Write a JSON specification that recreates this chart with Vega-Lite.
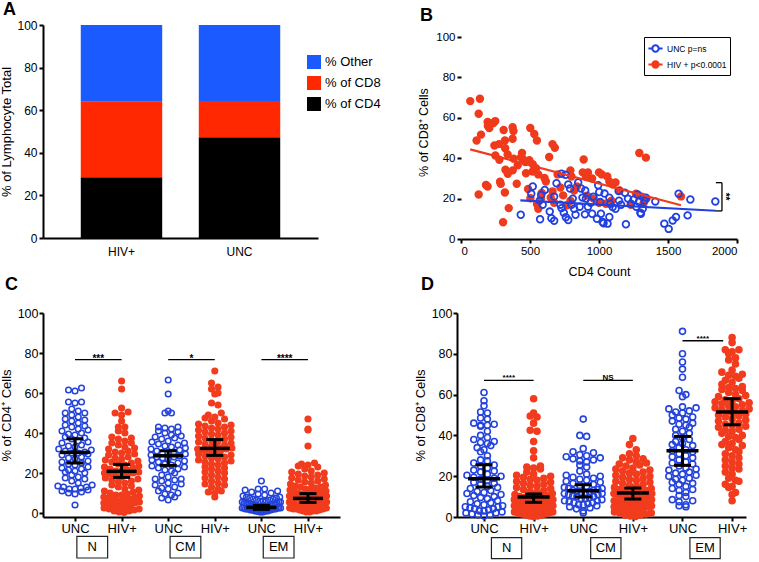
{
"$schema": "https://vega.github.io/schema/vega-lite/v6.json",
"background": "white",
"padding": {"left": 0, "top": 1, "right": 0, "bottom": 0},
"config": {
  "font": "Liberation Sans",
  "view": {"stroke": null},
  "axis": {"domainColor": "black", "domainWidth": 2, "tickColor": "black", "tickWidth": 2, "tickSize": 4, "labelColor": "black", "titleColor": "black", "grid": false, "labelFontSize": 12, "titleFontSize": 13, "titleFontWeight": "normal", "labelFont": "Liberation Sans", "titleFont": "Liberation Sans", "labelPadding": 2},
  "title": {"fontSize": 18, "fontWeight": "bold", "anchor": "start", "font": "Liberation Sans", "color": "black", "frame": "group"}
},
"datasets": {
  "a": [
    {"grp": "HIV+", "cell": "% of CD4", "pct": 28.5},
    {"grp": "HIV+", "cell": "% of CD8", "pct": 35.5},
    {"grp": "HIV+", "cell": "% Other", "pct": 36},
    {"grp": "UNC", "cell": "% of CD4", "pct": 47.3},
    {"grp": "UNC", "cell": "% of CD8", "pct": 17},
    {"grp": "UNC", "cell": "% Other", "pct": 35.7}
  ],
  "b": [
    {"grp":"HIV+","cd4":67,"cd8":68.3},{"grp":"HIV+","cd4":137,"cd8":69.5},{"grp":"HIV+","cd4":128,"cd8":62},{"grp":"HIV+","cd4":145,"cd8":51.7},{"grp":"HIV+","cd4":113,"cd8":48.8},{"grp":"HIV+","cd4":193,"cd8":58},{"grp":"HIV+","cd4":205,"cd8":55},{"grp":"HIV+","cd4":248,"cd8":58.4},{"grp":"HIV+","cd4":235,"cd8":57.5},{"grp":"HIV+","cd4":195,"cd8":56},
    {"grp":"HIV+","cd4":309,"cd8":54},{"grp":"HIV+","cd4":374,"cd8":55.4},{"grp":"HIV+","cd4":380,"cd8":53.5},{"grp":"HIV+","cd4":318,"cd8":48.8},{"grp":"HIV+","cd4":374,"cd8":49.7},{"grp":"HIV+","cd4":242,"cd8":46.3},{"grp":"HIV+","cd4":275,"cd8":47},{"grp":"HIV+","cd4":320,"cd8":45},{"grp":"HIV+","cd4":249,"cd8":41.4},{"grp":"HIV+","cd4":278,"cd8":39.3},
    {"grp":"HIV+","cd4":338,"cd8":41.9},{"grp":"HIV+","cd4":382,"cd8":39.8},{"grp":"HIV+","cd4":442,"cd8":42.6},{"grp":"HIV+","cd4":435,"cd8":40.5},{"grp":"HIV+","cd4":502,"cd8":55},{"grp":"HIV+","cd4":531,"cd8":52},{"grp":"HIV+","cd4":550,"cd8":48.8},{"grp":"HIV+","cd4":322,"cd8":34.3},{"grp":"HIV+","cd4":339,"cd8":32.3},{"grp":"HIV+","cd4":375,"cd8":34},
    {"grp":"HIV+","cd4":411,"cd8":36.5},{"grp":"HIV+","cd4":466,"cd8":38.1},{"grp":"HIV+","cd4":495,"cd8":39},{"grp":"HIV+","cd4":447,"cd8":39.8},{"grp":"HIV+","cd4":520,"cd8":37},{"grp":"HIV+","cd4":544,"cd8":35},{"grp":"HIV+","cd4":519,"cd8":33.4},{"grp":"HIV+","cd4":471,"cd8":32.6},{"grp":"HIV+","cd4":560,"cd8":32},{"grp":"HIV+","cd4":605,"cd8":30.2},
    {"grp":"HIV+","cd4":615,"cd8":28.5},{"grp":"HIV+","cd4":663,"cd8":47},{"grp":"HIV+","cd4":680,"cd8":45.2},{"grp":"HIV+","cd4":639,"cd8":40.6},{"grp":"HIV+","cd4":283,"cd8":28.4},{"grp":"HIV+","cd4":288,"cd8":27.3},{"grp":"HIV+","cd4":181,"cd8":26.8},{"grp":"HIV+","cd4":193,"cd8":26},{"grp":"HIV+","cd4":128,"cd8":22},{"grp":"HIV+","cd4":318,"cd8":23},
    {"grp":"HIV+","cd4":346,"cd8":15.3},{"grp":"HIV+","cd4":305,"cd8":8.3},{"grp":"HIV+","cd4":404,"cd8":27.4},{"grp":"HIV+","cd4":486,"cd8":24.8},{"grp":"HIV+","cd4":585,"cd8":22.8},{"grp":"HIV+","cd4":663,"cd8":23.6},{"grp":"HIV+","cd4":503,"cd8":20.2},{"grp":"HIV+","cd4":580,"cd8":20},{"grp":"HIV+","cd4":650,"cd8":20.5},{"grp":"HIV+","cd4":551,"cd8":17.2},
    {"grp":"HIV+","cd4":560,"cd8":15},{"grp":"HIV+","cd4":675,"cd8":18},{"grp":"HIV+","cd4":793,"cd8":34},{"grp":"HIV+","cd4":800,"cd8":31},{"grp":"HIV+","cd4":889,"cd8":39.4},{"grp":"HIV+","cd4":882,"cd8":33},{"grp":"HIV+","cd4":920,"cd8":33},{"grp":"HIV+","cd4":905,"cd8":31},{"grp":"HIV+","cd4":1000,"cd8":33},{"grp":"HIV+","cd4":913,"cd8":21.5},
    {"grp":"HIV+","cd4":793,"cd8":18.9},{"grp":"HIV+","cd4":740,"cd8":21.6},{"grp":"HIV+","cd4":768,"cd8":16.7},{"grp":"HIV+","cd4":820,"cd8":24},{"grp":"HIV+","cd4":840,"cd8":26},{"grp":"HIV+","cd4":950,"cd8":30},{"grp":"HIV+","cd4":1020,"cd8":32},{"grp":"HIV+","cd4":1060,"cd8":31},{"grp":"HIV+","cd4":1075,"cd8":28.5},{"grp":"HIV+","cd4":1100,"cd8":27},
    {"grp":"HIV+","cd4":1120,"cd8":28},{"grp":"HIV+","cd4":1150,"cd8":24},{"grp":"HIV+","cd4":1050,"cd8":17.5},{"grp":"HIV+","cd4":1090,"cd8":19},{"grp":"HIV+","cd4":960,"cd8":20},{"grp":"HIV+","cd4":1000,"cd8":18},{"grp":"HIV+","cd4":1292,"cd8":42.6},{"grp":"HIV+","cd4":1340,"cd8":40.3},{"grp":"HIV+","cd4":1268,"cd8":22.4},{"grp":"HIV+","cd4":1310,"cd8":21},
    {"grp":"HIV+","cd4":1345,"cd8":20},{"grp":"HIV+","cd4":1322,"cd8":17.5},{"grp":"HIV+","cd4":1594,"cd8":21.1},{"grp":"HIV+","cd4":1230,"cd8":17},{"grp":"HIV+","cd4":720,"cd8":25.5},{"grp":"HIV+","cd4":700,"cd8":32},
    {"grp":"UNC","cd4":433,"cd8":12},{"grp":"UNC","cd4":509,"cd8":22.4},{"grp":"UNC","cd4":520,"cd8":26},{"grp":"UNC","cd4":581,"cd8":21.8},{"grp":"UNC","cd4":570,"cd8":19},{"grp":"UNC","cd4":573,"cd8":9.8},{"grp":"UNC","cd4":607,"cd8":24.3},{"grp":"UNC","cd4":592,"cd8":17},{"grp":"UNC","cd4":643,"cd8":13.6},{"grp":"UNC","cd4":655,"cd8":10.3},
    {"grp":"UNC","cd4":675,"cd8":9},{"grp":"UNC","cd4":675,"cd8":21},{"grp":"UNC","cd4":692,"cd8":27.6},{"grp":"UNC","cd4":728,"cd8":32.3},{"grp":"UNC","cd4":757,"cd8":31.8},{"grp":"UNC","cd4":728,"cd8":15.3},{"grp":"UNC","cd4":760,"cd8":10.8},{"grp":"UNC","cd4":777,"cd8":9.4},{"grp":"UNC","cd4":777,"cd8":27},{"grp":"UNC","cd4":790,"cd8":25},
    {"grp":"UNC","cd4":801,"cd8":17},{"grp":"UNC","cd4":849,"cd8":28},{"grp":"UNC","cd4":870,"cd8":25},{"grp":"UNC","cd4":860,"cd8":16},{"grp":"UNC","cd4":880,"cd8":20.5},{"grp":"UNC","cd4":898,"cd8":12.2},{"grp":"UNC","cd4":920,"cd8":16},{"grp":"UNC","cd4":940,"cd8":18},{"grp":"UNC","cd4":950,"cd8":12.5},{"grp":"UNC","cd4":994,"cd8":26.6},
    {"grp":"UNC","cd4":985,"cd8":10},{"grp":"UNC","cd4":1002,"cd8":23.3},{"grp":"UNC","cd4":1009,"cd8":18.3},{"grp":"UNC","cd4":1014,"cd8":12.5},{"grp":"UNC","cd4":1026,"cd8":8.4},{"grp":"UNC","cd4":1033,"cd8":7.8},{"grp":"UNC","cd4":1062,"cd8":7.6},{"grp":"UNC","cd4":1075,"cd8":10.9},{"grp":"UNC","cd4":1075,"cd8":20.5},{"grp":"UNC","cd4":1080,"cd8":17.5},
    {"grp":"UNC","cd4":1099,"cd8":15.8},{"grp":"UNC","cd4":1142,"cd8":23.8},{"grp":"UNC","cd4":1145,"cd8":19},{"grp":"UNC","cd4":1188,"cd8":22.9},{"grp":"UNC","cd4":1195,"cd8":7.3},{"grp":"UNC","cd4":1232,"cd8":17.5},{"grp":"UNC","cd4":1250,"cd8":19.5},{"grp":"UNC","cd4":1280,"cd8":22},{"grp":"UNC","cd4":1290,"cd8":18.5},{"grp":"UNC","cd4":1304,"cd8":12.5},
    {"grp":"UNC","cd4":1317,"cd8":15},{"grp":"UNC","cd4":1330,"cd8":19},{"grp":"UNC","cd4":1408,"cd8":18.6},{"grp":"UNC","cd4":1473,"cd8":7.6},{"grp":"UNC","cd4":1505,"cd8":5},{"grp":"UNC","cd4":1534,"cd8":9.2},{"grp":"UNC","cd4":1558,"cd8":10.9},{"grp":"UNC","cd4":1577,"cd8":22.4},{"grp":"UNC","cd4":1642,"cd8":11.7},{"grp":"UNC","cd4":1662,"cd8":19.6},
    {"grp":"UNC","cd4":1843,"cd8":18.6},{"grp":"UNC","cd4":820,"cd8":15},{"grp":"UNC","cd4":830,"cd8":12},{"grp":"UNC","cd4":905,"cd8":20},{"grp":"UNC","cd4":960,"cd8":21},{"grp":"UNC","cd4":1040,"cd8":22.5},{"grp":"UNC","cd4":1120,"cd8":15},{"grp":"UNC","cd4":1160,"cd8":17},{"grp":"UNC","cd4":1210,"cd8":20},{"grp":"UNC","cd4":1270,"cd8":16},
    {"grp":"UNC","cd4":1300,"cd8":13},{"grp":"UNC","cd4":1340,"cd8":20.5},{"grp":"UNC","cd4":720,"cd8":17},{"grp":"UNC","cd4":745,"cd8":13},{"grp":"UNC","cd4":810,"cd8":20},{"grp":"UNC","cd4":900,"cd8":24}
  ],
  "bfit": [
    {"grp":"HIV+","cd4":67,"cd8":44.4},{"grp":"HIV+","cd4":1594,"cd8":16.7},
    {"grp":"UNC","cd4":430,"cd8":19.1},{"grp":"UNC","cd4":1847,"cd8":14}
  ],
  "bbr": [
    {"x1":1847,"x2":1891,"y1":27.9,"y2":27.9},
    {"x1":1891,"x2":1891,"y1":27.9,"y2":13.9},
    {"x1":1847,"x2":1891,"y1":13.9,"y2":13.9}
  ],
  "c": [
    {"s":"N","g":"UNC","v":62.5},{"s":"N","g":"UNC","v":61.5},{"s":"N","g":"UNC","v":61},{"s":"N","g":"UNC","v":55.5},{"s":"N","g":"UNC","v":55.5},{"s":"N","g":"UNC","v":55},{"s":"N","g":"UNC","v":52},{"s":"N","g":"UNC","v":51},{"s":"N","g":"UNC","v":50},{"s":"N","g":"UNC","v":50},
    {"s":"N","g":"UNC","v":49},{"s":"N","g":"UNC","v":48},{"s":"N","g":"UNC","v":47},{"s":"N","g":"UNC","v":46.5},{"s":"N","g":"UNC","v":46},{"s":"N","g":"UNC","v":45},{"s":"N","g":"UNC","v":44},{"s":"N","g":"UNC","v":43.5},{"s":"N","g":"UNC","v":43},{"s":"N","g":"UNC","v":42},
    {"s":"N","g":"UNC","v":41.5},{"s":"N","g":"UNC","v":41},{"s":"N","g":"UNC","v":40},{"s":"N","g":"UNC","v":39.5},{"s":"N","g":"UNC","v":39},{"s":"N","g":"UNC","v":38},{"s":"N","g":"UNC","v":37.5},{"s":"N","g":"UNC","v":37},{"s":"N","g":"UNC","v":36},{"s":"N","g":"UNC","v":35.5},
    {"s":"N","g":"UNC","v":35},{"s":"N","g":"UNC","v":34},{"s":"N","g":"UNC","v":33.5},{"s":"N","g":"UNC","v":33},{"s":"N","g":"UNC","v":32},{"s":"N","g":"UNC","v":31.5},{"s":"N","g":"UNC","v":31},{"s":"N","g":"UNC","v":30.5},{"s":"N","g":"UNC","v":30},{"s":"N","g":"UNC","v":30},
    {"s":"N","g":"UNC","v":29.5},{"s":"N","g":"UNC","v":29},{"s":"N","g":"UNC","v":28},{"s":"N","g":"UNC","v":27.5},{"s":"N","g":"UNC","v":27},{"s":"N","g":"UNC","v":26},{"s":"N","g":"UNC","v":25.5},{"s":"N","g":"UNC","v":25},{"s":"N","g":"UNC","v":24.5},{"s":"N","g":"UNC","v":24},
    {"s":"N","g":"UNC","v":23},{"s":"N","g":"UNC","v":22.5},{"s":"N","g":"UNC","v":22},{"s":"N","g":"UNC","v":21.5},{"s":"N","g":"UNC","v":21},{"s":"N","g":"UNC","v":20.5},{"s":"N","g":"UNC","v":20},{"s":"N","g":"UNC","v":19},{"s":"N","g":"UNC","v":18},{"s":"N","g":"UNC","v":17.5},
    {"s":"N","g":"UNC","v":17},{"s":"N","g":"UNC","v":16},{"s":"N","g":"UNC","v":15},{"s":"N","g":"UNC","v":14},{"s":"N","g":"UNC","v":13.5},{"s":"N","g":"UNC","v":13},{"s":"N","g":"UNC","v":13},{"s":"N","g":"UNC","v":12.5},{"s":"N","g":"UNC","v":12},{"s":"N","g":"UNC","v":12},
    {"s":"N","g":"UNC","v":11.5},{"s":"N","g":"UNC","v":11},{"s":"N","g":"UNC","v":10.5},{"s":"N","g":"UNC","v":10},{"s":"N","g":"UNC","v":9.5},{"s":"N","g":"UNC","v":4},
    {"s":"N","g":"HIV+","v":66},{"s":"N","g":"HIV+","v":62},{"s":"N","g":"HIV+","v":52.5},{"s":"N","g":"HIV+","v":50.5},{"s":"N","g":"HIV+","v":50},{"s":"N","g":"HIV+","v":49},{"s":"N","g":"HIV+","v":46},{"s":"N","g":"HIV+","v":43},{"s":"N","g":"HIV+","v":43},{"s":"N","g":"HIV+","v":41},
    {"s":"N","g":"HIV+","v":40},{"s":"N","g":"HIV+","v":38},{"s":"N","g":"HIV+","v":37.5},{"s":"N","g":"HIV+","v":37},{"s":"N","g":"HIV+","v":36},{"s":"N","g":"HIV+","v":35},{"s":"N","g":"HIV+","v":35},{"s":"N","g":"HIV+","v":34},{"s":"N","g":"HIV+","v":33},{"s":"N","g":"HIV+","v":32.5},
    {"s":"N","g":"HIV+","v":32},{"s":"N","g":"HIV+","v":31},{"s":"N","g":"HIV+","v":30.5},{"s":"N","g":"HIV+","v":30},{"s":"N","g":"HIV+","v":29.5},{"s":"N","g":"HIV+","v":29},{"s":"N","g":"HIV+","v":28},{"s":"N","g":"HIV+","v":27.5},{"s":"N","g":"HIV+","v":27},{"s":"N","g":"HIV+","v":26.5},
    {"s":"N","g":"HIV+","v":26},{"s":"N","g":"HIV+","v":25.5},{"s":"N","g":"HIV+","v":25},{"s":"N","g":"HIV+","v":24.5},{"s":"N","g":"HIV+","v":24},{"s":"N","g":"HIV+","v":23.5},{"s":"N","g":"HIV+","v":23},{"s":"N","g":"HIV+","v":22.5},{"s":"N","g":"HIV+","v":22},{"s":"N","g":"HIV+","v":21.5},
    {"s":"N","g":"HIV+","v":21},{"s":"N","g":"HIV+","v":21},{"s":"N","g":"HIV+","v":20.5},{"s":"N","g":"HIV+","v":20},{"s":"N","g":"HIV+","v":20},{"s":"N","g":"HIV+","v":19.5},{"s":"N","g":"HIV+","v":19},{"s":"N","g":"HIV+","v":18.5},{"s":"N","g":"HIV+","v":18},{"s":"N","g":"HIV+","v":17.5},
    {"s":"N","g":"HIV+","v":17},{"s":"N","g":"HIV+","v":16.5},{"s":"N","g":"HIV+","v":16},{"s":"N","g":"HIV+","v":15.5},{"s":"N","g":"HIV+","v":15},{"s":"N","g":"HIV+","v":14},{"s":"N","g":"HIV+","v":13.5},{"s":"N","g":"HIV+","v":13},{"s":"N","g":"HIV+","v":12},{"s":"N","g":"HIV+","v":11.5},
    {"s":"N","g":"HIV+","v":11},{"s":"N","g":"HIV+","v":10.5},{"s":"N","g":"HIV+","v":10},{"s":"N","g":"HIV+","v":9.5},{"s":"N","g":"HIV+","v":9},{"s":"N","g":"HIV+","v":9},{"s":"N","g":"HIV+","v":8.5},{"s":"N","g":"HIV+","v":8},{"s":"N","g":"HIV+","v":8},{"s":"N","g":"HIV+","v":7.5},
    {"s":"N","g":"HIV+","v":7},{"s":"N","g":"HIV+","v":7},{"s":"N","g":"HIV+","v":6.5},{"s":"N","g":"HIV+","v":6},{"s":"N","g":"HIV+","v":6},{"s":"N","g":"HIV+","v":5.5},{"s":"N","g":"HIV+","v":5},{"s":"N","g":"HIV+","v":5},{"s":"N","g":"HIV+","v":4.5},{"s":"N","g":"HIV+","v":4},
    {"s":"N","g":"HIV+","v":4},{"s":"N","g":"HIV+","v":3.5},{"s":"N","g":"HIV+","v":3},{"s":"N","g":"HIV+","v":3},{"s":"N","g":"HIV+","v":2.5},{"s":"N","g":"HIV+","v":2},{"s":"N","g":"HIV+","v":2},{"s":"N","g":"HIV+","v":1.5},{"s":"N","g":"HIV+","v":1},{"s":"N","g":"HIV+","v":1},
    {"s":"N","g":"HIV+","v":0.5},{"s":"N","g":"HIV+","v":0.3},
    {"s":"CM","g":"UNC","v":66.5},{"s":"CM","g":"UNC","v":59.5},{"s":"CM","g":"UNC","v":51},{"s":"CM","g":"UNC","v":50},{"s":"CM","g":"UNC","v":50},{"s":"CM","g":"UNC","v":43},{"s":"CM","g":"UNC","v":43},{"s":"CM","g":"UNC","v":42.5},{"s":"CM","g":"UNC","v":42},{"s":"CM","g":"UNC","v":41},
    {"s":"CM","g":"UNC","v":40.5},{"s":"CM","g":"UNC","v":40},{"s":"CM","g":"UNC","v":39},{"s":"CM","g":"UNC","v":38.5},{"s":"CM","g":"UNC","v":38},{"s":"CM","g":"UNC","v":37.5},{"s":"CM","g":"UNC","v":37},{"s":"CM","g":"UNC","v":36},{"s":"CM","g":"UNC","v":35.5},{"s":"CM","g":"UNC","v":35},
    {"s":"CM","g":"UNC","v":34.5},{"s":"CM","g":"UNC","v":34},{"s":"CM","g":"UNC","v":33.5},{"s":"CM","g":"UNC","v":33},{"s":"CM","g":"UNC","v":32.5},{"s":"CM","g":"UNC","v":32},{"s":"CM","g":"UNC","v":31.5},{"s":"CM","g":"UNC","v":31},{"s":"CM","g":"UNC","v":30.5},{"s":"CM","g":"UNC","v":30},
    {"s":"CM","g":"UNC","v":30},{"s":"CM","g":"UNC","v":29.5},{"s":"CM","g":"UNC","v":29},{"s":"CM","g":"UNC","v":28.5},{"s":"CM","g":"UNC","v":28},{"s":"CM","g":"UNC","v":28},{"s":"CM","g":"UNC","v":27.5},{"s":"CM","g":"UNC","v":27},{"s":"CM","g":"UNC","v":26.5},{"s":"CM","g":"UNC","v":26},
    {"s":"CM","g":"UNC","v":25.5},{"s":"CM","g":"UNC","v":25},{"s":"CM","g":"UNC","v":24.5},{"s":"CM","g":"UNC","v":24},{"s":"CM","g":"UNC","v":23.5},{"s":"CM","g":"UNC","v":23},{"s":"CM","g":"UNC","v":22.5},{"s":"CM","g":"UNC","v":22},{"s":"CM","g":"UNC","v":21.5},{"s":"CM","g":"UNC","v":21},
    {"s":"CM","g":"UNC","v":20},{"s":"CM","g":"UNC","v":19},{"s":"CM","g":"UNC","v":18},{"s":"CM","g":"UNC","v":17},{"s":"CM","g":"UNC","v":17},{"s":"CM","g":"UNC","v":16.5},{"s":"CM","g":"UNC","v":16},{"s":"CM","g":"UNC","v":15},{"s":"CM","g":"UNC","v":14.5},{"s":"CM","g":"UNC","v":14},
    {"s":"CM","g":"UNC","v":13},{"s":"CM","g":"UNC","v":12.5},{"s":"CM","g":"UNC","v":12},{"s":"CM","g":"UNC","v":11},{"s":"CM","g":"UNC","v":10},{"s":"CM","g":"UNC","v":9.5},{"s":"CM","g":"UNC","v":9},{"s":"CM","g":"UNC","v":8},{"s":"CM","g":"UNC","v":7.5},{"s":"CM","g":"UNC","v":6.5},
    {"s":"CM","g":"HIV+","v":71},{"s":"CM","g":"HIV+","v":65},{"s":"CM","g":"HIV+","v":63},{"s":"CM","g":"HIV+","v":62},{"s":"CM","g":"HIV+","v":60},{"s":"CM","g":"HIV+","v":59.5},{"s":"CM","g":"HIV+","v":55},{"s":"CM","g":"HIV+","v":54},{"s":"CM","g":"HIV+","v":50},{"s":"CM","g":"HIV+","v":49},
    {"s":"CM","g":"HIV+","v":48},{"s":"CM","g":"HIV+","v":47.5},{"s":"CM","g":"HIV+","v":47},{"s":"CM","g":"HIV+","v":46},{"s":"CM","g":"HIV+","v":45},{"s":"CM","g":"HIV+","v":44.5},{"s":"CM","g":"HIV+","v":44},{"s":"CM","g":"HIV+","v":43.5},{"s":"CM","g":"HIV+","v":43},{"s":"CM","g":"HIV+","v":42.5},
    {"s":"CM","g":"HIV+","v":42},{"s":"CM","g":"HIV+","v":41.5},{"s":"CM","g":"HIV+","v":41},{"s":"CM","g":"HIV+","v":40.5},{"s":"CM","g":"HIV+","v":40},{"s":"CM","g":"HIV+","v":39.5},{"s":"CM","g":"HIV+","v":39},{"s":"CM","g":"HIV+","v":38.5},{"s":"CM","g":"HIV+","v":38},{"s":"CM","g":"HIV+","v":37.5},
    {"s":"CM","g":"HIV+","v":37},{"s":"CM","g":"HIV+","v":36.5},{"s":"CM","g":"HIV+","v":36},{"s":"CM","g":"HIV+","v":35.5},{"s":"CM","g":"HIV+","v":35},{"s":"CM","g":"HIV+","v":34.5},{"s":"CM","g":"HIV+","v":34},{"s":"CM","g":"HIV+","v":33.5},{"s":"CM","g":"HIV+","v":33},{"s":"CM","g":"HIV+","v":32.5},
    {"s":"CM","g":"HIV+","v":32},{"s":"CM","g":"HIV+","v":32},{"s":"CM","g":"HIV+","v":31.5},{"s":"CM","g":"HIV+","v":31},{"s":"CM","g":"HIV+","v":30.5},{"s":"CM","g":"HIV+","v":30},{"s":"CM","g":"HIV+","v":29.5},{"s":"CM","g":"HIV+","v":29},{"s":"CM","g":"HIV+","v":28.5},{"s":"CM","g":"HIV+","v":28},
    {"s":"CM","g":"HIV+","v":27.5},{"s":"CM","g":"HIV+","v":27},{"s":"CM","g":"HIV+","v":26.5},{"s":"CM","g":"HIV+","v":26},{"s":"CM","g":"HIV+","v":25.5},{"s":"CM","g":"HIV+","v":25},{"s":"CM","g":"HIV+","v":24.5},{"s":"CM","g":"HIV+","v":24},{"s":"CM","g":"HIV+","v":23},{"s":"CM","g":"HIV+","v":22.5},
    {"s":"CM","g":"HIV+","v":22},{"s":"CM","g":"HIV+","v":21},{"s":"CM","g":"HIV+","v":20.5},{"s":"CM","g":"HIV+","v":20},{"s":"CM","g":"HIV+","v":19},{"s":"CM","g":"HIV+","v":18},{"s":"CM","g":"HIV+","v":17.5},{"s":"CM","g":"HIV+","v":17},{"s":"CM","g":"HIV+","v":16},{"s":"CM","g":"HIV+","v":15},
    {"s":"CM","g":"HIV+","v":14.5},{"s":"CM","g":"HIV+","v":14},{"s":"CM","g":"HIV+","v":13},{"s":"CM","g":"HIV+","v":12},{"s":"CM","g":"HIV+","v":11},{"s":"CM","g":"HIV+","v":10.5},{"s":"CM","g":"HIV+","v":10},{"s":"CM","g":"HIV+","v":8},
    {"s":"EM","g":"UNC","v":16},{"s":"EM","g":"UNC","v":12},{"s":"EM","g":"UNC","v":12},{"s":"EM","g":"UNC","v":11.5},{"s":"EM","g":"UNC","v":11},{"s":"EM","g":"UNC","v":10.5},{"s":"EM","g":"UNC","v":10},{"s":"EM","g":"UNC","v":9.5},{"s":"EM","g":"UNC","v":9},{"s":"EM","g":"UNC","v":8.5},
    {"s":"EM","g":"UNC","v":8},{"s":"EM","g":"UNC","v":8},{"s":"EM","g":"UNC","v":7.5},{"s":"EM","g":"UNC","v":7.5},{"s":"EM","g":"UNC","v":7},{"s":"EM","g":"UNC","v":7},{"s":"EM","g":"UNC","v":6.5},{"s":"EM","g":"UNC","v":6.5},{"s":"EM","g":"UNC","v":6},{"s":"EM","g":"UNC","v":6},
    {"s":"EM","g":"UNC","v":6},{"s":"EM","g":"UNC","v":5.5},{"s":"EM","g":"UNC","v":5.5},{"s":"EM","g":"UNC","v":5.5},{"s":"EM","g":"UNC","v":5},{"s":"EM","g":"UNC","v":5},{"s":"EM","g":"UNC","v":5},{"s":"EM","g":"UNC","v":4.5},{"s":"EM","g":"UNC","v":4.5},{"s":"EM","g":"UNC","v":4.5},
    {"s":"EM","g":"UNC","v":4.5},{"s":"EM","g":"UNC","v":4},{"s":"EM","g":"UNC","v":4},{"s":"EM","g":"UNC","v":4},{"s":"EM","g":"UNC","v":4},{"s":"EM","g":"UNC","v":3.5},{"s":"EM","g":"UNC","v":3.5},{"s":"EM","g":"UNC","v":3.5},{"s":"EM","g":"UNC","v":3.5},{"s":"EM","g":"UNC","v":3},
    {"s":"EM","g":"UNC","v":3},{"s":"EM","g":"UNC","v":3},{"s":"EM","g":"UNC","v":3},{"s":"EM","g":"UNC","v":3},{"s":"EM","g":"UNC","v":2.5},{"s":"EM","g":"UNC","v":2.5},{"s":"EM","g":"UNC","v":2.5},{"s":"EM","g":"UNC","v":2.5},{"s":"EM","g":"UNC","v":2.5},{"s":"EM","g":"UNC","v":2},
    {"s":"EM","g":"UNC","v":2},{"s":"EM","g":"UNC","v":2},{"s":"EM","g":"UNC","v":2},{"s":"EM","g":"UNC","v":2},{"s":"EM","g":"UNC","v":2},{"s":"EM","g":"UNC","v":1.5},{"s":"EM","g":"UNC","v":1.5},{"s":"EM","g":"UNC","v":1.5},{"s":"EM","g":"UNC","v":1.5},{"s":"EM","g":"UNC","v":1.5},
    {"s":"EM","g":"UNC","v":1},{"s":"EM","g":"UNC","v":1},{"s":"EM","g":"UNC","v":1},{"s":"EM","g":"UNC","v":1},{"s":"EM","g":"UNC","v":1},{"s":"EM","g":"UNC","v":0.8},{"s":"EM","g":"UNC","v":0.5},{"s":"EM","g":"UNC","v":0.5},{"s":"EM","g":"UNC","v":0.5},
    {"s":"EM","g":"HIV+","v":47},{"s":"EM","g":"HIV+","v":42},{"s":"EM","g":"HIV+","v":41.5},{"s":"EM","g":"HIV+","v":33.5},{"s":"EM","g":"HIV+","v":25},{"s":"EM","g":"HIV+","v":24.5},{"s":"EM","g":"HIV+","v":24},{"s":"EM","g":"HIV+","v":23.5},{"s":"EM","g":"HIV+","v":23},{"s":"EM","g":"HIV+","v":22},
    {"s":"EM","g":"HIV+","v":21},{"s":"EM","g":"HIV+","v":20.5},{"s":"EM","g":"HIV+","v":20},{"s":"EM","g":"HIV+","v":19.5},{"s":"EM","g":"HIV+","v":19},{"s":"EM","g":"HIV+","v":18.5},{"s":"EM","g":"HIV+","v":18},{"s":"EM","g":"HIV+","v":17.5},{"s":"EM","g":"HIV+","v":17},{"s":"EM","g":"HIV+","v":16.5},
    {"s":"EM","g":"HIV+","v":16},{"s":"EM","g":"HIV+","v":15.5},{"s":"EM","g":"HIV+","v":15},{"s":"EM","g":"HIV+","v":14.5},{"s":"EM","g":"HIV+","v":14},{"s":"EM","g":"HIV+","v":13.5},{"s":"EM","g":"HIV+","v":13},{"s":"EM","g":"HIV+","v":13},{"s":"EM","g":"HIV+","v":12.5},{"s":"EM","g":"HIV+","v":12},
    {"s":"EM","g":"HIV+","v":12},{"s":"EM","g":"HIV+","v":11.5},{"s":"EM","g":"HIV+","v":11},{"s":"EM","g":"HIV+","v":11},{"s":"EM","g":"HIV+","v":10.5},{"s":"EM","g":"HIV+","v":10},{"s":"EM","g":"HIV+","v":10},{"s":"EM","g":"HIV+","v":9.5},{"s":"EM","g":"HIV+","v":9.5},{"s":"EM","g":"HIV+","v":9},
    {"s":"EM","g":"HIV+","v":9},{"s":"EM","g":"HIV+","v":8.5},{"s":"EM","g":"HIV+","v":8.5},{"s":"EM","g":"HIV+","v":8},{"s":"EM","g":"HIV+","v":8},{"s":"EM","g":"HIV+","v":7.5},{"s":"EM","g":"HIV+","v":7.5},{"s":"EM","g":"HIV+","v":7.5},{"s":"EM","g":"HIV+","v":7},{"s":"EM","g":"HIV+","v":7},
    {"s":"EM","g":"HIV+","v":6.5},{"s":"EM","g":"HIV+","v":6.5},{"s":"EM","g":"HIV+","v":6},{"s":"EM","g":"HIV+","v":6},{"s":"EM","g":"HIV+","v":6},{"s":"EM","g":"HIV+","v":5.5},{"s":"EM","g":"HIV+","v":5.5},{"s":"EM","g":"HIV+","v":5},{"s":"EM","g":"HIV+","v":5},{"s":"EM","g":"HIV+","v":5},
    {"s":"EM","g":"HIV+","v":4.5},{"s":"EM","g":"HIV+","v":4.5},{"s":"EM","g":"HIV+","v":4},{"s":"EM","g":"HIV+","v":4},{"s":"EM","g":"HIV+","v":4},{"s":"EM","g":"HIV+","v":3.5},{"s":"EM","g":"HIV+","v":3.5},{"s":"EM","g":"HIV+","v":3},{"s":"EM","g":"HIV+","v":3},{"s":"EM","g":"HIV+","v":3},
    {"s":"EM","g":"HIV+","v":2.5},{"s":"EM","g":"HIV+","v":2.5},{"s":"EM","g":"HIV+","v":2},{"s":"EM","g":"HIV+","v":2},{"s":"EM","g":"HIV+","v":2},{"s":"EM","g":"HIV+","v":1.5},{"s":"EM","g":"HIV+","v":1.5},{"s":"EM","g":"HIV+","v":1},{"s":"EM","g":"HIV+","v":1},{"s":"EM","g":"HIV+","v":1},
    {"s":"EM","g":"HIV+","v":0.5},{"s":"EM","g":"HIV+","v":0.5}
  ],
  "cs": [
    {"s":"N","g":"UNC","med":30.3,"lo":25,"hi":37.1},
    {"s":"N","g":"HIV+","med":20.8,"lo":17.8,"hi":24.3},
    {"s":"CM","g":"UNC","med":28.6,"lo":23.8,"hi":31.1},
    {"s":"CM","g":"HIV+","med":32.3,"lo":28.8,"hi":36.7},
    {"s":"EM","g":"UNC","med":2.8,"lo":1.8,"hi":3.8},
    {"s":"EM","g":"HIV+","med":7.3,"lo":5.3,"hi":9.7}
  ],
  "csig": [
    {"x1":1,"x2":2,"y":76.7,"t":"***"},
    {"x1":3,"x2":4,"y":76.7,"t":"*"},
    {"x1":5,"x2":6,"y":76.7,"t":"****"}
  ],
  "d": [
    {"s":"N","g":"UNC","v":61},{"s":"N","g":"UNC","v":57},{"s":"N","g":"UNC","v":54.5},{"s":"N","g":"UNC","v":51.5},{"s":"N","g":"UNC","v":51},{"s":"N","g":"UNC","v":48.5},{"s":"N","g":"UNC","v":48},{"s":"N","g":"UNC","v":46},{"s":"N","g":"UNC","v":45.5},{"s":"N","g":"UNC","v":45},
    {"s":"N","g":"UNC","v":45},{"s":"N","g":"UNC","v":44.5},{"s":"N","g":"UNC","v":42},{"s":"N","g":"UNC","v":40},{"s":"N","g":"UNC","v":39},{"s":"N","g":"UNC","v":38},{"s":"N","g":"UNC","v":37},{"s":"N","g":"UNC","v":36.5},{"s":"N","g":"UNC","v":36},{"s":"N","g":"UNC","v":35},
    {"s":"N","g":"UNC","v":34},{"s":"N","g":"UNC","v":33},{"s":"N","g":"UNC","v":32},{"s":"N","g":"UNC","v":30},{"s":"N","g":"UNC","v":28},{"s":"N","g":"UNC","v":27.5},{"s":"N","g":"UNC","v":26.5},{"s":"N","g":"UNC","v":25.5},{"s":"N","g":"UNC","v":25},{"s":"N","g":"UNC","v":24},
    {"s":"N","g":"UNC","v":23},{"s":"N","g":"UNC","v":22.5},{"s":"N","g":"UNC","v":22},{"s":"N","g":"UNC","v":21},{"s":"N","g":"UNC","v":20.5},{"s":"N","g":"UNC","v":20},{"s":"N","g":"UNC","v":19.5},{"s":"N","g":"UNC","v":19},{"s":"N","g":"UNC","v":18.5},{"s":"N","g":"UNC","v":18},
    {"s":"N","g":"UNC","v":17},{"s":"N","g":"UNC","v":16.5},{"s":"N","g":"UNC","v":16},{"s":"N","g":"UNC","v":15},{"s":"N","g":"UNC","v":14.5},{"s":"N","g":"UNC","v":14},{"s":"N","g":"UNC","v":13},{"s":"N","g":"UNC","v":12.5},{"s":"N","g":"UNC","v":12},{"s":"N","g":"UNC","v":11.5},
    {"s":"N","g":"UNC","v":11},{"s":"N","g":"UNC","v":10.5},{"s":"N","g":"UNC","v":10},{"s":"N","g":"UNC","v":9.5},{"s":"N","g":"UNC","v":9},{"s":"N","g":"UNC","v":8},{"s":"N","g":"UNC","v":7.5},{"s":"N","g":"UNC","v":7},{"s":"N","g":"UNC","v":6.5},{"s":"N","g":"UNC","v":6},
    {"s":"N","g":"UNC","v":5.5},{"s":"N","g":"UNC","v":5},{"s":"N","g":"UNC","v":5},{"s":"N","g":"UNC","v":4.5},{"s":"N","g":"UNC","v":4},{"s":"N","g":"UNC","v":4},{"s":"N","g":"UNC","v":3.5},{"s":"N","g":"UNC","v":3},{"s":"N","g":"UNC","v":3},{"s":"N","g":"UNC","v":2.5},
    {"s":"N","g":"UNC","v":2},{"s":"N","g":"UNC","v":2},{"s":"N","g":"UNC","v":1.5},{"s":"N","g":"UNC","v":1},{"s":"N","g":"UNC","v":1},{"s":"N","g":"UNC","v":0.5},
    {"s":"N","g":"HIV+","v":58},{"s":"N","g":"HIV+","v":51},{"s":"N","g":"HIV+","v":49.5},{"s":"N","g":"HIV+","v":49},{"s":"N","g":"HIV+","v":46},{"s":"N","g":"HIV+","v":42.5},{"s":"N","g":"HIV+","v":42},{"s":"N","g":"HIV+","v":37},{"s":"N","g":"HIV+","v":32.5},{"s":"N","g":"HIV+","v":29},
    {"s":"N","g":"HIV+","v":25},{"s":"N","g":"HIV+","v":24.5},{"s":"N","g":"HIV+","v":24},{"s":"N","g":"HIV+","v":23.5},{"s":"N","g":"HIV+","v":22},{"s":"N","g":"HIV+","v":21},{"s":"N","g":"HIV+","v":20.5},{"s":"N","g":"HIV+","v":20},{"s":"N","g":"HIV+","v":19.5},{"s":"N","g":"HIV+","v":19},
    {"s":"N","g":"HIV+","v":18.5},{"s":"N","g":"HIV+","v":18},{"s":"N","g":"HIV+","v":17.5},{"s":"N","g":"HIV+","v":17},{"s":"N","g":"HIV+","v":16.5},{"s":"N","g":"HIV+","v":16},{"s":"N","g":"HIV+","v":15.5},{"s":"N","g":"HIV+","v":15},{"s":"N","g":"HIV+","v":14.5},{"s":"N","g":"HIV+","v":14},
    {"s":"N","g":"HIV+","v":13.5},{"s":"N","g":"HIV+","v":13},{"s":"N","g":"HIV+","v":12.5},{"s":"N","g":"HIV+","v":12},{"s":"N","g":"HIV+","v":11.5},{"s":"N","g":"HIV+","v":11},{"s":"N","g":"HIV+","v":10.5},{"s":"N","g":"HIV+","v":10},{"s":"N","g":"HIV+","v":10},{"s":"N","g":"HIV+","v":9.5},
    {"s":"N","g":"HIV+","v":9.5},{"s":"N","g":"HIV+","v":9},{"s":"N","g":"HIV+","v":9},{"s":"N","g":"HIV+","v":8.5},{"s":"N","g":"HIV+","v":8.5},{"s":"N","g":"HIV+","v":8},{"s":"N","g":"HIV+","v":8},{"s":"N","g":"HIV+","v":7.5},{"s":"N","g":"HIV+","v":7.5},{"s":"N","g":"HIV+","v":7},
    {"s":"N","g":"HIV+","v":7},{"s":"N","g":"HIV+","v":6.5},{"s":"N","g":"HIV+","v":6.5},{"s":"N","g":"HIV+","v":6},{"s":"N","g":"HIV+","v":6},{"s":"N","g":"HIV+","v":5.5},{"s":"N","g":"HIV+","v":5.5},{"s":"N","g":"HIV+","v":5},{"s":"N","g":"HIV+","v":5},{"s":"N","g":"HIV+","v":4.5},
    {"s":"N","g":"HIV+","v":4.5},{"s":"N","g":"HIV+","v":4},{"s":"N","g":"HIV+","v":4},{"s":"N","g":"HIV+","v":3.5},{"s":"N","g":"HIV+","v":3.5},{"s":"N","g":"HIV+","v":3},{"s":"N","g":"HIV+","v":3},{"s":"N","g":"HIV+","v":2.5},{"s":"N","g":"HIV+","v":2.5},{"s":"N","g":"HIV+","v":2},
    {"s":"N","g":"HIV+","v":2},{"s":"N","g":"HIV+","v":1.5},{"s":"N","g":"HIV+","v":1.5},{"s":"N","g":"HIV+","v":1},{"s":"N","g":"HIV+","v":1},{"s":"N","g":"HIV+","v":0.5},{"s":"N","g":"HIV+","v":0.5},{"s":"N","g":"HIV+","v":0.2},
    {"s":"CM","g":"UNC","v":48},{"s":"CM","g":"UNC","v":40},{"s":"CM","g":"UNC","v":39.5},{"s":"CM","g":"UNC","v":33.5},{"s":"CM","g":"UNC","v":32},{"s":"CM","g":"UNC","v":31.5},{"s":"CM","g":"UNC","v":30.5},{"s":"CM","g":"UNC","v":30},{"s":"CM","g":"UNC","v":29.5},{"s":"CM","g":"UNC","v":29},
    {"s":"CM","g":"UNC","v":28.5},{"s":"CM","g":"UNC","v":28},{"s":"CM","g":"UNC","v":27.5},{"s":"CM","g":"UNC","v":27},{"s":"CM","g":"UNC","v":25.5},{"s":"CM","g":"UNC","v":24.5},{"s":"CM","g":"UNC","v":22.5},{"s":"CM","g":"UNC","v":21},{"s":"CM","g":"UNC","v":20.5},{"s":"CM","g":"UNC","v":20},
    {"s":"CM","g":"UNC","v":19.5},{"s":"CM","g":"UNC","v":19},{"s":"CM","g":"UNC","v":18.5},{"s":"CM","g":"UNC","v":18},{"s":"CM","g":"UNC","v":17.5},{"s":"CM","g":"UNC","v":17},{"s":"CM","g":"UNC","v":16.5},{"s":"CM","g":"UNC","v":16},{"s":"CM","g":"UNC","v":15.5},{"s":"CM","g":"UNC","v":15},
    {"s":"CM","g":"UNC","v":14.5},{"s":"CM","g":"UNC","v":14},{"s":"CM","g":"UNC","v":14},{"s":"CM","g":"UNC","v":13.5},{"s":"CM","g":"UNC","v":13},{"s":"CM","g":"UNC","v":13},{"s":"CM","g":"UNC","v":12.5},{"s":"CM","g":"UNC","v":12.5},{"s":"CM","g":"UNC","v":12},{"s":"CM","g":"UNC","v":12},
    {"s":"CM","g":"UNC","v":11.5},{"s":"CM","g":"UNC","v":11.5},{"s":"CM","g":"UNC","v":11},{"s":"CM","g":"UNC","v":11},{"s":"CM","g":"UNC","v":10.5},{"s":"CM","g":"UNC","v":10},{"s":"CM","g":"UNC","v":10},{"s":"CM","g":"UNC","v":9.5},{"s":"CM","g":"UNC","v":9},{"s":"CM","g":"UNC","v":9},
    {"s":"CM","g":"UNC","v":8.5},{"s":"CM","g":"UNC","v":8},{"s":"CM","g":"UNC","v":8},{"s":"CM","g":"UNC","v":7.5},{"s":"CM","g":"UNC","v":7},{"s":"CM","g":"UNC","v":7},{"s":"CM","g":"UNC","v":6.5},{"s":"CM","g":"UNC","v":6},{"s":"CM","g":"UNC","v":6},{"s":"CM","g":"UNC","v":5.5},
    {"s":"CM","g":"UNC","v":5},{"s":"CM","g":"UNC","v":4.5},{"s":"CM","g":"UNC","v":4},{"s":"CM","g":"UNC","v":3},{"s":"CM","g":"UNC","v":2},
    {"s":"CM","g":"HIV+","v":38.5},{"s":"CM","g":"HIV+","v":35.5},{"s":"CM","g":"HIV+","v":33},{"s":"CM","g":"HIV+","v":31},{"s":"CM","g":"HIV+","v":30},{"s":"CM","g":"HIV+","v":29},{"s":"CM","g":"HIV+","v":28.5},{"s":"CM","g":"HIV+","v":28},{"s":"CM","g":"HIV+","v":27},{"s":"CM","g":"HIV+","v":26.5},
    {"s":"CM","g":"HIV+","v":26},{"s":"CM","g":"HIV+","v":25.5},{"s":"CM","g":"HIV+","v":25},{"s":"CM","g":"HIV+","v":24},{"s":"CM","g":"HIV+","v":23.5},{"s":"CM","g":"HIV+","v":23},{"s":"CM","g":"HIV+","v":22.5},{"s":"CM","g":"HIV+","v":22},{"s":"CM","g":"HIV+","v":21.5},{"s":"CM","g":"HIV+","v":21},
    {"s":"CM","g":"HIV+","v":20.5},{"s":"CM","g":"HIV+","v":20},{"s":"CM","g":"HIV+","v":19.5},{"s":"CM","g":"HIV+","v":19},{"s":"CM","g":"HIV+","v":18.5},{"s":"CM","g":"HIV+","v":18},{"s":"CM","g":"HIV+","v":17.5},{"s":"CM","g":"HIV+","v":17},{"s":"CM","g":"HIV+","v":16.5},{"s":"CM","g":"HIV+","v":16},
    {"s":"CM","g":"HIV+","v":15.5},{"s":"CM","g":"HIV+","v":15},{"s":"CM","g":"HIV+","v":14.5},{"s":"CM","g":"HIV+","v":14},{"s":"CM","g":"HIV+","v":13.5},{"s":"CM","g":"HIV+","v":13},{"s":"CM","g":"HIV+","v":13},{"s":"CM","g":"HIV+","v":12.5},{"s":"CM","g":"HIV+","v":12},{"s":"CM","g":"HIV+","v":12},
    {"s":"CM","g":"HIV+","v":11.5},{"s":"CM","g":"HIV+","v":11.5},{"s":"CM","g":"HIV+","v":11},{"s":"CM","g":"HIV+","v":11},{"s":"CM","g":"HIV+","v":10.5},{"s":"CM","g":"HIV+","v":10},{"s":"CM","g":"HIV+","v":10},{"s":"CM","g":"HIV+","v":9.5},{"s":"CM","g":"HIV+","v":9},{"s":"CM","g":"HIV+","v":9},
    {"s":"CM","g":"HIV+","v":8.5},{"s":"CM","g":"HIV+","v":8},{"s":"CM","g":"HIV+","v":8},{"s":"CM","g":"HIV+","v":7.5},{"s":"CM","g":"HIV+","v":7},{"s":"CM","g":"HIV+","v":7},{"s":"CM","g":"HIV+","v":6.5},{"s":"CM","g":"HIV+","v":6},{"s":"CM","g":"HIV+","v":6},{"s":"CM","g":"HIV+","v":5.5},
    {"s":"CM","g":"HIV+","v":5},{"s":"CM","g":"HIV+","v":5},{"s":"CM","g":"HIV+","v":4.5},{"s":"CM","g":"HIV+","v":4},{"s":"CM","g":"HIV+","v":4},{"s":"CM","g":"HIV+","v":3.5},{"s":"CM","g":"HIV+","v":3},{"s":"CM","g":"HIV+","v":3},{"s":"CM","g":"HIV+","v":2.5},{"s":"CM","g":"HIV+","v":2},
    {"s":"CM","g":"HIV+","v":2},{"s":"CM","g":"HIV+","v":1.5},{"s":"CM","g":"HIV+","v":1},{"s":"CM","g":"HIV+","v":1},{"s":"CM","g":"HIV+","v":0.5},{"s":"CM","g":"HIV+","v":0.3},
    {"s":"EM","g":"UNC","v":91},{"s":"EM","g":"UNC","v":80},{"s":"EM","g":"UNC","v":76},{"s":"EM","g":"UNC","v":72.5},{"s":"EM","g":"UNC","v":68.5},{"s":"EM","g":"UNC","v":62},{"s":"EM","g":"UNC","v":60},{"s":"EM","g":"UNC","v":59},{"s":"EM","g":"UNC","v":54},{"s":"EM","g":"UNC","v":53.5},
    {"s":"EM","g":"UNC","v":53},{"s":"EM","g":"UNC","v":52},{"s":"EM","g":"UNC","v":51.5},{"s":"EM","g":"UNC","v":51},{"s":"EM","g":"UNC","v":50},{"s":"EM","g":"UNC","v":49},{"s":"EM","g":"UNC","v":48.5},{"s":"EM","g":"UNC","v":48},{"s":"EM","g":"UNC","v":47},{"s":"EM","g":"UNC","v":46},
    {"s":"EM","g":"UNC","v":45.5},{"s":"EM","g":"UNC","v":45},{"s":"EM","g":"UNC","v":44},{"s":"EM","g":"UNC","v":43},{"s":"EM","g":"UNC","v":42},{"s":"EM","g":"UNC","v":41},{"s":"EM","g":"UNC","v":40},{"s":"EM","g":"UNC","v":39},{"s":"EM","g":"UNC","v":38},{"s":"EM","g":"UNC","v":37},
    {"s":"EM","g":"UNC","v":36},{"s":"EM","g":"UNC","v":35.5},{"s":"EM","g":"UNC","v":35},{"s":"EM","g":"UNC","v":34},{"s":"EM","g":"UNC","v":33},{"s":"EM","g":"UNC","v":32.5},{"s":"EM","g":"UNC","v":32},{"s":"EM","g":"UNC","v":31},{"s":"EM","g":"UNC","v":30},{"s":"EM","g":"UNC","v":29.5},
    {"s":"EM","g":"UNC","v":29},{"s":"EM","g":"UNC","v":28},{"s":"EM","g":"UNC","v":27},{"s":"EM","g":"UNC","v":26.5},{"s":"EM","g":"UNC","v":26},{"s":"EM","g":"UNC","v":25},{"s":"EM","g":"UNC","v":24},{"s":"EM","g":"UNC","v":23.5},{"s":"EM","g":"UNC","v":23},{"s":"EM","g":"UNC","v":22},
    {"s":"EM","g":"UNC","v":21.5},{"s":"EM","g":"UNC","v":21},{"s":"EM","g":"UNC","v":20.5},{"s":"EM","g":"UNC","v":20},{"s":"EM","g":"UNC","v":19},{"s":"EM","g":"UNC","v":18.5},{"s":"EM","g":"UNC","v":18},{"s":"EM","g":"UNC","v":17},{"s":"EM","g":"UNC","v":16.5},{"s":"EM","g":"UNC","v":16},
    {"s":"EM","g":"UNC","v":15},{"s":"EM","g":"UNC","v":14},{"s":"EM","g":"UNC","v":13.5},{"s":"EM","g":"UNC","v":13},{"s":"EM","g":"UNC","v":12},{"s":"EM","g":"UNC","v":10.5},{"s":"EM","g":"UNC","v":10},{"s":"EM","g":"UNC","v":8.5},{"s":"EM","g":"UNC","v":8},{"s":"EM","g":"UNC","v":7.5},
    {"s":"EM","g":"UNC","v":6},{"s":"EM","g":"UNC","v":5.5},{"s":"EM","g":"UNC","v":5},
    {"s":"EM","g":"HIV+","v":88},{"s":"EM","g":"HIV+","v":85.5},{"s":"EM","g":"HIV+","v":82},{"s":"EM","g":"HIV+","v":82},{"s":"EM","g":"HIV+","v":81},{"s":"EM","g":"HIV+","v":80},{"s":"EM","g":"HIV+","v":78},{"s":"EM","g":"HIV+","v":77},{"s":"EM","g":"HIV+","v":75},{"s":"EM","g":"HIV+","v":72},
    {"s":"EM","g":"HIV+","v":71},{"s":"EM","g":"HIV+","v":70},{"s":"EM","g":"HIV+","v":69.5},{"s":"EM","g":"HIV+","v":69},{"s":"EM","g":"HIV+","v":68},{"s":"EM","g":"HIV+","v":67},{"s":"EM","g":"HIV+","v":66},{"s":"EM","g":"HIV+","v":65},{"s":"EM","g":"HIV+","v":64},{"s":"EM","g":"HIV+","v":63.5},
    {"s":"EM","g":"HIV+","v":63},{"s":"EM","g":"HIV+","v":62.5},{"s":"EM","g":"HIV+","v":62},{"s":"EM","g":"HIV+","v":61},{"s":"EM","g":"HIV+","v":60},{"s":"EM","g":"HIV+","v":59.5},{"s":"EM","g":"HIV+","v":59},{"s":"EM","g":"HIV+","v":58},{"s":"EM","g":"HIV+","v":57.5},{"s":"EM","g":"HIV+","v":57},
    {"s":"EM","g":"HIV+","v":56.5},{"s":"EM","g":"HIV+","v":56},{"s":"EM","g":"HIV+","v":55.5},{"s":"EM","g":"HIV+","v":55},{"s":"EM","g":"HIV+","v":54.5},{"s":"EM","g":"HIV+","v":54},{"s":"EM","g":"HIV+","v":53.5},{"s":"EM","g":"HIV+","v":53},{"s":"EM","g":"HIV+","v":52.5},{"s":"EM","g":"HIV+","v":52},
    {"s":"EM","g":"HIV+","v":51.5},{"s":"EM","g":"HIV+","v":51},{"s":"EM","g":"HIV+","v":50.5},{"s":"EM","g":"HIV+","v":50},{"s":"EM","g":"HIV+","v":49.5},{"s":"EM","g":"HIV+","v":49},{"s":"EM","g":"HIV+","v":48},{"s":"EM","g":"HIV+","v":47.5},{"s":"EM","g":"HIV+","v":47},{"s":"EM","g":"HIV+","v":46},
    {"s":"EM","g":"HIV+","v":45.5},{"s":"EM","g":"HIV+","v":45},{"s":"EM","g":"HIV+","v":44.5},{"s":"EM","g":"HIV+","v":44},{"s":"EM","g":"HIV+","v":43},{"s":"EM","g":"HIV+","v":42.5},{"s":"EM","g":"HIV+","v":42},{"s":"EM","g":"HIV+","v":41},{"s":"EM","g":"HIV+","v":40},{"s":"EM","g":"HIV+","v":39.5},
    {"s":"EM","g":"HIV+","v":39},{"s":"EM","g":"HIV+","v":38},{"s":"EM","g":"HIV+","v":37},{"s":"EM","g":"HIV+","v":36},{"s":"EM","g":"HIV+","v":35.5},{"s":"EM","g":"HIV+","v":35},{"s":"EM","g":"HIV+","v":34},{"s":"EM","g":"HIV+","v":33},{"s":"EM","g":"HIV+","v":32},{"s":"EM","g":"HIV+","v":31},
    {"s":"EM","g":"HIV+","v":30},{"s":"EM","g":"HIV+","v":29},{"s":"EM","g":"HIV+","v":28},{"s":"EM","g":"HIV+","v":27},{"s":"EM","g":"HIV+","v":26},{"s":"EM","g":"HIV+","v":25},{"s":"EM","g":"HIV+","v":24},{"s":"EM","g":"HIV+","v":23.5},{"s":"EM","g":"HIV+","v":22},{"s":"EM","g":"HIV+","v":21},
    {"s":"EM","g":"HIV+","v":19},{"s":"EM","g":"HIV+","v":18},{"s":"EM","g":"HIV+","v":17.5},{"s":"EM","g":"HIV+","v":16},{"s":"EM","g":"HIV+","v":15},{"s":"EM","g":"HIV+","v":14.5},{"s":"EM","g":"HIV+","v":12},{"s":"EM","g":"HIV+","v":11},{"s":"EM","g":"HIV+","v":8}
  ],
  "ds": [
    {"s":"N","g":"UNC","med":18.8,"lo":14.7,"hi":25.6},
    {"s":"N","g":"HIV+","med":9.8,"lo":7.2,"hi":11.3},
    {"s":"CM","g":"UNC","med":12.9,"lo":9.8,"hi":15.8},
    {"s":"CM","g":"HIV+","med":11.8,"lo":8.8,"hi":14.2},
    {"s":"EM","g":"UNC","med":32.5,"lo":25.3,"hi":39.5},
    {"s":"EM","g":"HIV+","med":51.5,"lo":45.2,"hi":58}
  ],
  "dsig": [
    {"x1":1,"x2":2,"y":67,"t":"****"},
    {"x1":3,"x2":4,"y":67,"t":"NS"},
    {"x1":5,"x2":5.82,"y":86.4,"t":"****"}
  ],
  "boxes": [
    {"s":"N","p":1},{"s":"CM","p":3},{"s":"EM","p":5}
  ]
},
"resolve": {"scale": {"color": "independent", "fill": "independent", "stroke": "independent"}, "legend": {"color": "independent", "fill": "independent", "stroke": "independent"}},
"spacing": -2,
"vconcat": [
 {
  "spacing": 36,
  "resolve": {"scale": {"color": "independent", "fill": "independent", "stroke": "independent"}, "legend": {"color": "independent", "fill": "independent", "stroke": "independent"}},
  "hconcat": [
   {
    "width": 275, "height": 213,
    "title": {"text": "A", "dx": -40, "offset": 0},
    "data": {"name": "a"},
    "transform": [{"calculate": "indexof(['% of CD4','% of CD8','% Other'], datum.cell)", "as": "k"}],
    "mark": {"type": "bar"},
    "encoding": {
      "x": {"field": "grp", "type": "nominal", "sort": ["HIV+", "UNC"], "scale": {"paddingInner": 0.31, "paddingOuter": 0.32}, "axis": {"title": null, "labelAngle": 0, "ticks": false, "labelFontSize": 12, "labelPadding": 8}},
      "y": {"field": "pct", "type": "quantitative", "stack": "zero", "scale": {"domain": [0, 100], "nice": false}, "axis": {"values": [0, 20, 40, 60, 80, 100], "title": "% of Lymphocyte Total", "titlePadding": 3}},
      "color": {"field": "cell", "type": "nominal", "scale": {"domain": ["% Other", "% of CD8", "% of CD4"], "range": ["#1A5AFF", "#FF2800", "#000000"]}, "legend": {"orient": "none", "legendX": 264, "legendY": 30, "title": null, "symbolType": "square", "symbolSize": 196, "symbolStrokeWidth": 0, "labelFontSize": 13, "rowPadding": 7, "labelOffset": 4, "labelColor": "black"}},
      "order": {"field": "k", "type": "quantitative"}
    }
   },
   {
    "width": 276, "height": 214,
    "title": {"text": "B", "dx": -41, "offset": 0},
    "layer": [
     {
      "data": {"name": "b"},
      "mark": {"type": "point", "shape": "circle", "size": 44, "strokeWidth": 1.8, "opacity": 1, "fillOpacity": 1},
      "encoding": {
        "x": {"field": "cd4", "type": "quantitative", "scale": {"domain": [0, 2000], "nice": false}, "axis": {"values": [0, 500, 1000, 1500, 2000], "format": "d", "title": "CD4 Count", "labelFontSize": 11.5, "titleFontSize": 12.5, "titlePadding": 9}},
        "y": {"field": "cd8", "type": "quantitative", "scale": {"domain": [0, 106], "nice": false}, "axis": {"values": [0, 20, 40, 60, 80, 100], "domain": false, "title": "% of CD8⁺ Cells", "labelFontSize": 11.5, "titleFontSize": 12.5, "titlePadding": 5}},
        "stroke": {"field": "grp", "type": "nominal", "scale": {"domain": ["UNC", "HIV+"], "range": ["#2040E0", "#F03A1C"]}, "legend": {"orient": "none", "legendX": 183, "legendY": 12, "title": null, "strokeColor": "black", "padding": 3, "labelFontSize": 8.5, "labelColor": "black", "labelExpr": "datum.label == 'UNC' ? 'UNC p=ns' : 'HIV + p<0.0001'", "symbolType": "M-1,0L-0.45,0M0.45,0L1,0M0.45,0A0.45,0.45,0,1,1,-0.45,0A0.45,0.45,0,1,1,0.45,0", "symbolSize": 200, "symbolStrokeWidth": 2, "rowPadding": 0, "labelOffset": 3}},
        "fill": {"field": "grp", "type": "nominal", "scale": {"domain": ["UNC", "HIV+"], "range": ["transparent", "#F03A1C"]}, "legend": {"orient": "none", "legendX": 183, "legendY": 12, "title": null, "strokeColor": "black", "padding": 3, "labelFontSize": 8.5, "labelColor": "black", "labelExpr": "datum.label == 'UNC' ? 'UNC p=ns' : 'HIV + p<0.0001'", "symbolType": "M-1,0L-0.45,0M0.45,0L1,0M0.45,0A0.45,0.45,0,1,1,-0.45,0A0.45,0.45,0,1,1,0.45,0", "symbolSize": 200, "symbolStrokeWidth": 2, "rowPadding": 0, "labelOffset": 3}}
      }
     },
     {
      "data": {"name": "bfit"},
      "mark": {"type": "line", "strokeWidth": 2.2},
      "encoding": {
        "x": {"field": "cd4", "type": "quantitative"},
        "y": {"field": "cd8", "type": "quantitative"},
        "stroke": {"field": "grp", "type": "nominal"}
      }
     },
     {
      "mark": {"type": "rule", "strokeWidth": 2, "color": "black"},
      "encoding": {"x": {"datum": 0, "type": "quantitative"}, "y": {"datum": 0, "type": "quantitative"}, "y2": {"datum": 100}}
     },
     {
      "data": {"name": "bbr"},
      "mark": {"type": "rule", "strokeWidth": 1.3, "color": "black"},
      "encoding": {"x": {"field": "x1", "type": "quantitative"}, "x2": {"field": "x2"}, "y": {"field": "y1", "type": "quantitative"}, "y2": {"field": "y2"}}
     },
     {
      "data": {"values": [{"t": "**", "x": 1915, "y": 21}]},
      "mark": {"type": "text", "angle": 90, "fontSize": 10, "fontWeight": "bold", "color": "black"},
      "encoding": {"x": {"field": "x", "type": "quantitative"}, "y": {"field": "y", "type": "quantitative"}, "text": {"field": "t"}}
     }
    ]
   }
  ]
 },
 {
  "spacing": 74,
  "hconcat": [
   {
    "width": 297, "height": 204,
    "title": {"text": "C", "dx": -38, "offset": 13},
    "layer": [
     {
      "data": {"name": "c"},
      "transform": [
        {"calculate": "indexof(['N','CM','EM'], datum.s)*2 + (datum.g === 'UNC' ? 1 : 2)", "as": "pos"},
        {"calculate": "floor(datum.v / 3)", "as": "b"},
        {"joinaggregate": [{"op": "count", "as": "n"}], "groupby": ["s", "g", "b"]},
        {"window": [{"op": "row_number", "as": "k"}], "sort": [{"field": "v"}], "groupby": ["s", "g", "b"]},
        {"calculate": "datum.pos + (((datum.k - 1) % 2 == 0 ? 1 : -1) * ceil((datum.k - 1) / 2) + (datum.n % 2 == 0 ? 0.5 : 0)) * min(6.5, 40 / datum.n) / 46.6", "as": "xp"}
      ],
      "mark": {"type": "point", "shape": "circle", "size": 32, "strokeWidth": 1.5, "opacity": 1, "fillOpacity": 1},
      "encoding": {
        "x": {"field": "xp", "type": "quantitative", "scale": {"domain": [0.313, 6.687], "nice": false, "zero": false}, "axis": {"values": [1, 2, 3, 4, 5, 6], "labelExpr": "datum.value % 2 == 1 ? 'UNC' : 'HIV+'", "title": null, "labelFontSize": 13, "labelPadding": 1}},
        "y": {"field": "v", "type": "quantitative", "scale": {"domain": [-2, 100], "nice": false, "zero": false}, "axis": {"values": [0, 20, 40, 60, 80, 100], "title": "% of CD4⁺ Cells", "labelFontSize": 12.5, "titlePadding": 4, "labelPadding": 1}},
        "stroke": {"field": "g", "type": "nominal", "scale": {"domain": ["UNC", "HIV+"], "range": ["#2343DC", "#F23C1E"]}, "legend": null},
        "fill": {"field": "g", "type": "nominal", "scale": {"domain": ["UNC", "HIV+"], "range": ["transparent", "#F23C1E"]}, "legend": null}
      }
     },
     {
      "mark": {"type": "rule", "strokeDash": [2, 2], "strokeWidth": 1.5, "color": "black"},
      "encoding": {"y": {"datum": 0, "type": "quantitative"}}
     },
     {
      "data": {"name": "cs"},
      "transform": [{"calculate": "indexof(['N','CM','EM'], datum.s)*2 + (datum.g === 'UNC' ? 1 : 2)", "as": "pos"}],
      "layer": [
        {"mark": {"type": "rule", "strokeWidth": 3, "color": "black"}, "encoding": {"x": {"field": "pos", "type": "quantitative"}, "y": {"field": "lo", "type": "quantitative"}, "y2": {"field": "hi"}}},
        {"mark": {"type": "tick", "orient": "horizontal", "size": 30, "thickness": 3.5, "color": "black", "opacity": 1}, "encoding": {"x": {"field": "pos", "type": "quantitative"}, "y": {"field": "med", "type": "quantitative"}}},
        {"mark": {"type": "tick", "orient": "horizontal", "size": 17, "thickness": 3, "color": "black", "opacity": 1}, "encoding": {"x": {"field": "pos", "type": "quantitative"}, "y": {"field": "lo", "type": "quantitative"}}},
        {"mark": {"type": "tick", "orient": "horizontal", "size": 17, "thickness": 3, "color": "black", "opacity": 1}, "encoding": {"x": {"field": "pos", "type": "quantitative"}, "y": {"field": "hi", "type": "quantitative"}}}
      ]
     },
     {
      "data": {"name": "csig"},
      "transform": [{"calculate": "(datum.x1 + datum.x2) / 2", "as": "xm"}],
      "layer": [
        {"mark": {"type": "rule", "strokeWidth": 1.3, "color": "black"}, "encoding": {"x": {"field": "x1", "type": "quantitative"}, "x2": {"field": "x2"}, "y": {"field": "y", "type": "quantitative"}}},
        {"mark": {"type": "text", "fontSize": 10, "fontWeight": "bold", "baseline": "bottom", "dy": 4, "color": "black"}, "encoding": {"x": {"field": "xm", "type": "quantitative"}, "y": {"field": "y", "type": "quantitative"}, "text": {"field": "t"}}}
      ]
     },
     {
      "data": {"name": "boxes"},
      "transform": [{"calculate": "datum.p + 0.04", "as": "bx1"}, {"calculate": "datum.p + 0.70", "as": "bx2"}, {"calculate": "datum.p + 0.37", "as": "bxm"}],
      "layer": [
        {"mark": {"type": "rect", "fill": "white", "stroke": "#222222", "strokeWidth": 1.2}, "encoding": {"x": {"field": "bx1", "type": "quantitative"}, "x2": {"field": "bx2"}, "y": {"datum": -11.7, "type": "quantitative"}, "y2": {"datum": -22.5}}},
        {"mark": {"type": "text", "fontSize": 13, "color": "black", "baseline": "middle"}, "encoding": {"x": {"field": "bxm", "type": "quantitative"}, "y": {"datum": -17.1, "type": "quantitative"}, "text": {"field": "s"}}}
      ]
     }
    ]
   },
   {
    "width": 289, "height": 204,
    "title": {"text": "D", "dx": -36, "offset": 13},
    "layer": [
     {
      "data": {"name": "d"},
      "transform": [
        {"calculate": "indexof(['N','CM','EM'], datum.s)*2 + (datum.g === 'UNC' ? 1 : 2)", "as": "pos"},
        {"calculate": "floor(datum.v / 3)", "as": "b"},
        {"joinaggregate": [{"op": "count", "as": "n"}], "groupby": ["s", "g", "b"]},
        {"window": [{"op": "row_number", "as": "k"}], "sort": [{"field": "v"}], "groupby": ["s", "g", "b"]},
        {"calculate": "datum.pos + (((datum.k - 1) % 2 == 0 ? 1 : -1) * ceil((datum.k - 1) / 2) + (datum.n % 2 == 0 ? 0.5 : 0)) * min(6.8, 42 / datum.n) / 49.6", "as": "xp"}
      ],
      "mark": {"type": "point", "shape": "circle", "size": 36, "strokeWidth": 1.6, "opacity": 1, "fillOpacity": 1},
      "encoding": {
        "x": {"field": "xp", "type": "quantitative", "scale": {"domain": [0.456, 6.28], "nice": false, "zero": false}, "axis": {"values": [1, 2, 3, 4, 5, 6], "labelExpr": "datum.value % 2 == 1 ? 'UNC' : 'HIV+'", "title": null, "labelFontSize": 13, "labelPadding": 1}},
        "y": {"field": "v", "type": "quantitative", "scale": {"domain": [0, 100], "nice": false, "zero": false}, "axis": {"values": [0, 20, 40, 60, 80, 100], "title": "% of CD8⁺ Cells", "labelFontSize": 12.5, "titlePadding": 4, "labelPadding": 1}},
        "stroke": {"field": "g", "type": "nominal", "scale": {"domain": ["UNC", "HIV+"], "range": ["#2343DC", "#F23C1E"]}, "legend": null},
        "fill": {"field": "g", "type": "nominal", "scale": {"domain": ["UNC", "HIV+"], "range": ["transparent", "#F23C1E"]}, "legend": null}
      }
     },
     {
      "data": {"name": "ds"},
      "transform": [{"calculate": "indexof(['N','CM','EM'], datum.s)*2 + (datum.g === 'UNC' ? 1 : 2)", "as": "pos"}],
      "layer": [
        {"mark": {"type": "rule", "strokeWidth": 3, "color": "black"}, "encoding": {"x": {"field": "pos", "type": "quantitative"}, "y": {"field": "lo", "type": "quantitative"}, "y2": {"field": "hi"}}},
        {"mark": {"type": "tick", "orient": "horizontal", "size": 32, "thickness": 3.5, "color": "black", "opacity": 1}, "encoding": {"x": {"field": "pos", "type": "quantitative"}, "y": {"field": "med", "type": "quantitative"}}},
        {"mark": {"type": "tick", "orient": "horizontal", "size": 17, "thickness": 3, "color": "black", "opacity": 1}, "encoding": {"x": {"field": "pos", "type": "quantitative"}, "y": {"field": "lo", "type": "quantitative"}}},
        {"mark": {"type": "tick", "orient": "horizontal", "size": 17, "thickness": 3, "color": "black", "opacity": 1}, "encoding": {"x": {"field": "pos", "type": "quantitative"}, "y": {"field": "hi", "type": "quantitative"}}}
      ]
     },
     {
      "data": {"name": "dsig"},
      "transform": [{"calculate": "(datum.x1 + datum.x2) / 2", "as": "xm"}],
      "layer": [
        {"mark": {"type": "rule", "strokeWidth": 1.3, "color": "black"}, "encoding": {"x": {"field": "x1", "type": "quantitative"}, "x2": {"field": "x2"}, "y": {"field": "y", "type": "quantitative"}}},
        {"mark": {"type": "text", "fontSize": 8, "fontWeight": "bold", "baseline": "bottom", "dy": 2, "color": "black"}, "encoding": {"x": {"field": "xm", "type": "quantitative"}, "y": {"field": "y", "type": "quantitative"}, "text": {"field": "t"}}}
      ]
     },
     {
      "data": {"name": "boxes"},
      "transform": [{"calculate": "datum.p + 0.15", "as": "bx1"}, {"calculate": "datum.p + 0.76", "as": "bx2"}, {"calculate": "datum.p + 0.455", "as": "bxm"}],
      "layer": [
        {"mark": {"type": "rect", "fill": "white", "stroke": "#222222", "strokeWidth": 1.2}, "encoding": {"x": {"field": "bx1", "type": "quantitative"}, "x2": {"field": "bx2"}, "y": {"datum": -10.1, "type": "quantitative"}, "y2": {"datum": -20.4}}},
        {"mark": {"type": "text", "fontSize": 13, "color": "black", "baseline": "middle"}, "encoding": {"x": {"field": "bxm", "type": "quantitative"}, "y": {"datum": -15.3, "type": "quantitative"}, "text": {"field": "s"}}}
      ]
     }
    ]
   }
  ]
 }
]
}
